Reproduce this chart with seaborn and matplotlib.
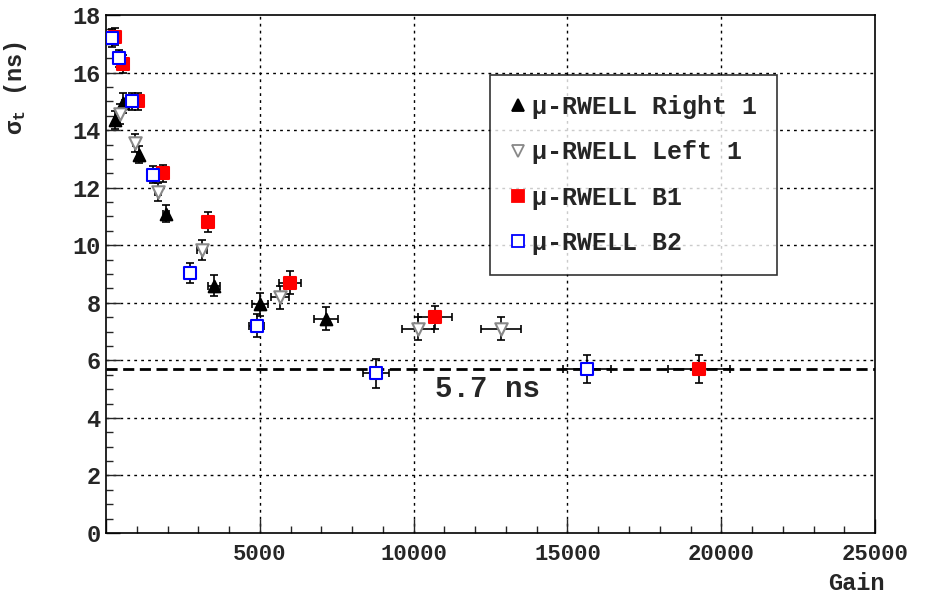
#!/usr/bin/env python3
"""
Time resolution vs gain for the mu-RWELL prototypes
"""

import numpy as np
import pandas as pd
import matplotlib
matplotlib.use("Agg")
import matplotlib.pyplot as plt
from matplotlib.ticker import MultipleLocator
import seaborn as sns

# Right 1 (filled black triangles)
right1_gain = [290, 550, 1070, 1950, 3510, 5000, 7150]
right1_sigma = [14.35, 14.95, 13.15, 11.1, 8.6, 7.95, 7.45]
right1_xerr = [15, 30, 50, 100, 180, 270, 380]
right1_yerr = [0.3, 0.35, 0.3, 0.3, 0.35, 0.4, 0.4]

# Left 1 (open grey triangles down)
left1_gain = [460, 940, 1690, 3120, 5660, 10140, 12840]
left1_sigma = [14.55, 13.55, 11.85, 9.85, 8.2, 7.1, 7.1]
left1_xerr = [25, 50, 90, 160, 300, 520, 650]
left1_yerr = [0.35, 0.3, 0.3, 0.35, 0.4, 0.4, 0.4]

# B1 (filled red squares)
b1_gain = [280, 560, 1040, 1850, 3310, 5980, 10700, 19280]
b1_sigma = [17.25, 16.3, 15.0, 12.5, 10.8, 8.7, 7.5, 5.7]
b1_xerr = [15, 30, 50, 90, 170, 350, 560, 1000]
b1_yerr = [0.3, 0.3, 0.3, 0.3, 0.35, 0.4, 0.4, 0.5]

# B2 (open blue squares)
b2_gain = [210, 420, 840, 1530, 2730, 4900, 8780, 15640]
b2_sigma = [17.2, 16.5, 15.0, 12.45, 9.05, 7.2, 5.55, 5.7]
b2_xerr = [10, 20, 40, 80, 140, 250, 420, 790]
b2_yerr = [0.3, 0.3, 0.3, 0.3, 0.35, 0.4, 0.5, 0.5]

series_names = ["μ-RWELL Right 1", "μ-RWELL Left 1", "μ-RWELL B1", "μ-RWELL B2"]
plateau = 5.7

sns.set_style("ticks")
plt.rcParams['font.family'] = ['Liberation Mono', 'DejaVu Sans']
plt.rcParams['mathtext.fontset'] = 'custom'
plt.rcParams['mathtext.rm'] = 'Liberation Mono'

frames = []
for name, g, s, xe, ye in zip(
        series_names,
        [right1_gain, left1_gain, b1_gain, b2_gain],
        [right1_sigma, left1_sigma, b1_sigma, b2_sigma],
        [right1_xerr, left1_xerr, b1_xerr, b2_xerr],
        [right1_yerr, left1_yerr, b1_yerr, b2_yerr]):
    frames.append(pd.DataFrame({"gain": g, "sigma": s, "xerr": xe, "yerr": ye, "det": name}))
df = pd.concat(frames, ignore_index=True)

styles = {
    "μ-RWELL Right 1": dict(marker="^", face="black", edge="black", size=70),
    "μ-RWELL Left 1": dict(marker="v", face="white", edge="#888888", size=80),
    "μ-RWELL B1": dict(marker="s", face="#ff0000", edge="#ff0000", size=75),
    "μ-RWELL B2": dict(marker="s", face="white", edge="#0000ff", size=75),
}

fig = plt.figure(figsize=(9.34, 5.96), dpi=100)
ax = fig.add_axes([0.1135, 0.1057, 0.8235, 0.869])

# grid and plateau line first
for gx in [5000, 10000, 15000, 20000]:
    ax.axvline(gx, color="black", lw=1.0, ls=(0, (2, 3)), zorder=0)
for gy in range(2, 18, 2):
    ax.axhline(gy, color="black", lw=1.0, ls=(0, (2, 3)), zorder=0)
ax.axhline(plateau, color="black", lw=2.0, ls=(0, (4, 2)), zorder=1)

for name in series_names:
    sub = df[df.det == name]
    ax.errorbar(sub.gain, sub.sigma, xerr=sub.xerr, yerr=sub.yerr, fmt="none",
                ecolor="black", elinewidth=1.2, capsize=3, capthick=1.2, zorder=2)

for name in series_names:
    st = styles[name]
    sub = df[df.det == name]
    sns.scatterplot(data=sub, x="gain", y="sigma", marker=st["marker"], s=st["size"],
                    color=st["face"], edgecolor=st["edge"], linewidth=1.5,
                    ax=ax, zorder=3, label=name, legend=False)

ax.text(12400, 5.0, "5.7 ns", fontsize=21, ha="center", va="center", fontweight="bold",
        family=['Liberation Mono', 'DejaVu Sans'], zorder=4)

ax.set_xlim(0, 25000)
ax.set_ylim(0, 18)
ax.xaxis.set_major_locator(MultipleLocator(5000))
ax.xaxis.set_minor_locator(MultipleLocator(1000))
ax.yaxis.set_major_locator(MultipleLocator(2))
ax.yaxis.set_minor_locator(MultipleLocator(0.5))
ax.tick_params(which="major", direction="in", length=10, width=1, labelsize=17,
               top=False, right=False)
ax.tick_params(which="minor", direction="in", length=5, width=1, top=False, right=False)
ax.set_xticks([0, 5000, 10000, 15000, 20000, 25000])
ax.set_xticklabels(["", "5000", "10000", "15000", "20000", "25000"])
ax.tick_params(axis="x", pad=8, labelsize=16)
ax.tick_params(axis="y", pad=4)
for lab in ax.get_xticklabels() + ax.get_yticklabels():
    lab.set_fontweight("bold")
for sp in ax.spines.values():
    sp.set_linewidth(1.2)
    sp.set_color("black")

ax.set_xlabel("Gain", fontsize=17, labelpad=10, fontweight="bold")
ax.xaxis.set_label_coords(0.975, -0.075)
ax.set_ylabel(r"$\mathregular{\sigma_t}$ (ns)", fontsize=17, fontweight="bold")
ax.yaxis.set_label_coords(-0.1, 0.86)

# legend
handles = []
for name in series_names:
    st = styles[name]
    h = plt.Line2D([], [], ls="none", marker=st["marker"], markersize=8,
                   markerfacecolor=st["face"], markeredgecolor=st["edge"], markeredgewidth=1.3)
    handles.append(h)
leg = fig.legend(handles, series_names, loc="upper left", bbox_to_anchor=(0.525, 0.874),
                 frameon=True, fancybox=False, edgecolor="black", fontsize=18,
                 handlelength=0.6, handletextpad=0.25, labelspacing=0.85,
                 borderpad=0.8, borderaxespad=0)
leg.get_frame().set_linewidth(1.2)
for t in leg.get_texts():
    t.set_fontweight("bold")

fig.savefig("out.png", dpi=100)
